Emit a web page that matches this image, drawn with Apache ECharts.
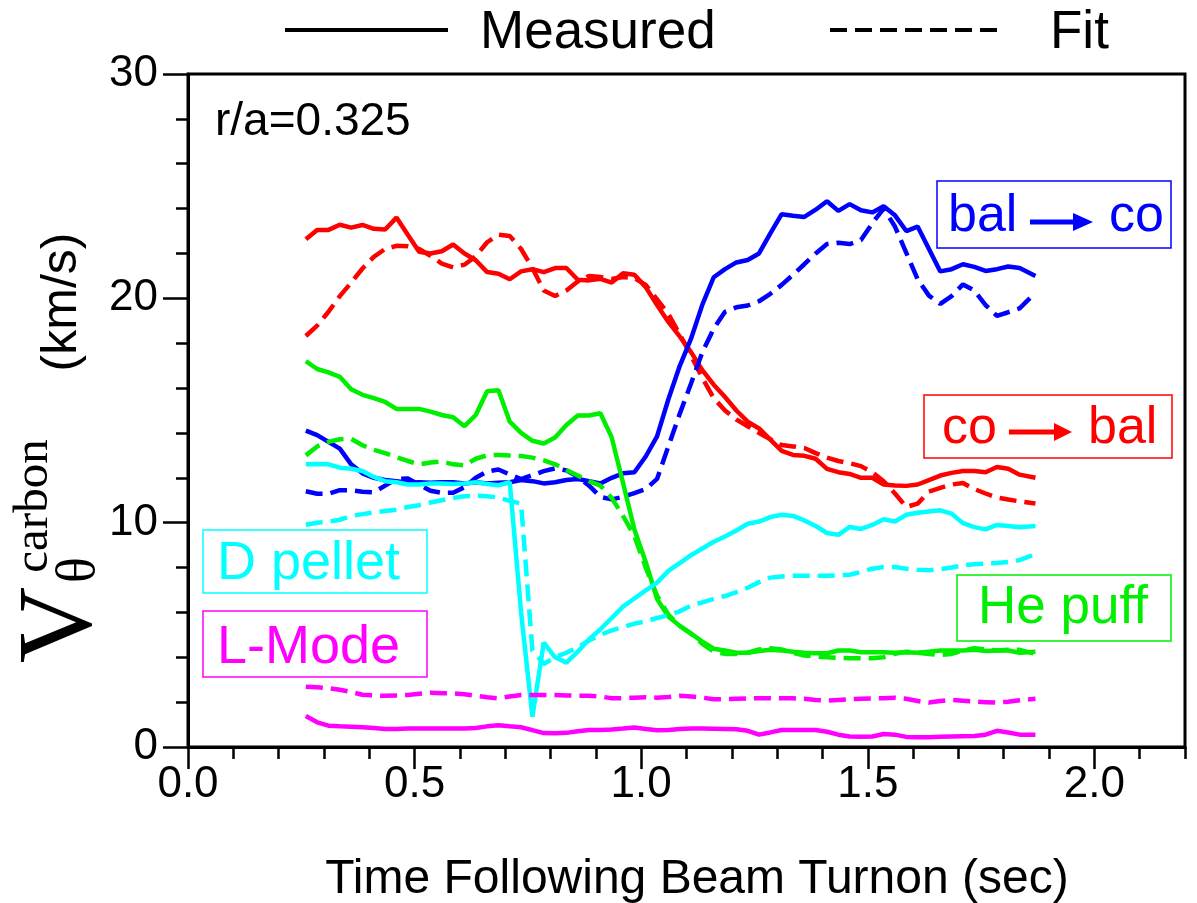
<!DOCTYPE html>
<html>
<head>
<meta charset="utf-8">
<script src="https://cdn.jsdelivr.net/npm/echarts@6/dist/echarts.min.js"></script>
<style>
  html, body { margin: 0; padding: 0; background: #fff; }
  #chart { width: 1197px; height: 903px; }
</style>
</head>
<body>
<div id="chart"></div>
<script>
// time axis (sec) shared by every trace
const time = [0.26, 0.285, 0.31, 0.335, 0.36, 0.385, 0.41, 0.435, 0.46, 0.485,
  0.51, 0.535, 0.56, 0.585, 0.61, 0.635, 0.66, 0.685, 0.71, 0.735,
  0.76, 0.785, 0.81, 0.835, 0.86, 0.885, 0.91, 0.935, 0.96, 0.985,
  1.01, 1.035, 1.06, 1.085, 1.11, 1.135, 1.16, 1.185, 1.21, 1.235,
  1.26, 1.285, 1.31, 1.335, 1.36, 1.385, 1.41, 1.435, 1.46, 1.485,
  1.51, 1.535, 1.56, 1.585, 1.61, 1.635, 1.66, 1.685, 1.71, 1.735,
  1.76, 1.785, 1.81, 1.835, 1.87];

const coBalMeasured = [22.63, 23.05, 23.05, 23.28, 23.15, 23.27, 23.1, 23.07, 23.6, 22.83,
  22.08, 22.0, 22.1, 22.4, 22.0, 21.7, 21.17, 21.1, 20.85, 21.2,
  21.3, 21.17, 21.35, 21.35, 20.83, 20.8, 20.87, 20.7, 21.12, 21.05,
  20.5, 19.7, 18.95, 18.3, 17.6, 16.8, 16.15, 15.6, 15.0, 14.5,
  14.2, 13.7, 13.2, 13.02, 12.98, 12.85, 12.4, 12.25, 12.17, 12.0,
  12.0, 11.7, 11.66, 11.64, 11.7, 11.9, 12.1, 12.22, 12.3, 12.3,
  12.25, 12.48, 12.4, 12.14, 12.0];
const coBalFit = [18.32, 18.78, 19.4, 20.1, 20.7, 21.33, 21.85, 22.2, 22.34, 22.32,
  22.2, 21.9, 21.55, 21.38, 21.5, 21.88, 22.5, 22.84, 22.78, 22.2,
  21.35, 20.35, 20.1, 20.35, 20.75, 21.0, 20.95, 20.86, 20.95, 20.9,
  20.6, 19.95, 19.3, 18.4, 17.45, 16.45, 15.55, 15.0, 14.6, 14.3,
  14.0, 13.72, 13.46, 13.4, 13.33, 13.1, 12.9, 12.75, 12.65, 12.52,
  12.25, 11.85, 11.3, 10.7, 10.85, 11.38, 11.55, 11.7, 11.77, 11.5,
  11.3, 11.12, 11.03, 10.95, 10.85];

const balCoMeasured = [14.1, 13.9, 13.6, 13.3, 12.6, 12.2, 12.0, 11.9, 11.85, 11.78,
  11.8, 11.78, 11.8, 11.8, 11.75, 11.8, 11.75, 11.78, 11.8, 11.9,
  11.85, 11.75, 11.8, 11.9, 11.95, 11.85, 11.75, 12.0, 12.2, 12.25,
  12.95, 13.85, 15.5, 16.98, 18.2, 19.72, 20.94, 21.3, 21.6, 21.71,
  22.0, 22.9, 23.75, 23.68, 23.63, 23.95, 24.33, 23.9, 24.2, 23.93,
  23.83, 24.1, 23.7, 23.0, 23.2, 22.2, 21.2, 21.3, 21.52, 21.4,
  21.22, 21.3, 21.42, 21.35, 21.0];
const balCoFit = [11.4, 11.29, 11.29, 11.45, 11.45, 11.38, 11.35, 11.65, 11.95, 11.97,
  11.7, 11.42, 11.33, 11.33, 11.58, 12.0, 12.28, 12.37, 12.15, 11.94,
  12.12, 12.3, 12.42, 12.33, 12.05, 11.65, 11.15, 11.04, 11.15, 11.32,
  11.5, 11.95, 13.4, 14.85, 16.2, 17.6, 18.65, 19.4, 19.6, 19.68,
  19.87, 20.2, 20.6, 21.05, 21.52, 22.0, 22.42, 22.48, 22.42, 22.6,
  23.35, 24.0, 23.2, 22.03, 20.85, 20.12, 19.75, 20.1, 20.62, 20.35,
  19.7, 19.22, 19.38, 19.55, 20.25];

const hePuffMeasured = [17.2, 16.85, 16.7, 16.5, 15.95, 15.7, 15.55, 15.38, 15.07, 15.07,
  15.07, 14.95, 14.8, 14.7, 14.3, 14.8, 15.86, 15.9, 14.5, 14.0,
  13.65, 13.53, 13.8, 14.35, 14.78, 14.78, 14.88, 13.8, 11.77, 9.7,
  8.25, 6.6, 5.82, 5.4, 5.05, 4.7, 4.38, 4.3, 4.2, 4.2,
  4.28, 4.33, 4.3, 4.25, 4.2, 4.18, 4.18, 4.3, 4.3, 4.22,
  4.22, 4.22, 4.2, 4.22, 4.2, 4.25, 4.3, 4.3, 4.3, 4.33,
  4.28, 4.3, 4.3, 4.2, 4.25];
const hePuffFit = [13.0, 13.4, 13.6, 13.72, 13.74, 13.45, 13.25, 13.1, 12.92, 12.75,
  12.6, 12.68, 12.73, 12.6, 12.55, 12.85, 13.0, 13.02, 12.99, 12.97,
  12.9, 12.78, 12.6, 12.35, 12.1, 11.85, 11.65, 11.1, 10.3, 9.4,
  8.0, 6.75, 5.9, 5.4, 5.05, 4.6, 4.25, 4.15, 4.15, 4.2,
  4.35, 4.4, 4.35, 4.2, 4.08, 4.03, 4.0, 3.97, 3.96, 3.96,
  3.96, 4.0, 4.15, 4.25, 4.2, 4.15, 4.1, 4.15, 4.3, 4.4,
  4.35, 4.3, 4.33, 4.33, 4.15];

const pelletMeasured = [12.6, 12.62, 12.6, 12.45, 12.4, 12.3, 12.04, 11.85, 11.8, 11.7,
  11.7, 11.75, 11.75, 11.72, 11.75, 11.8, 11.72, 11.67, 11.8, 6.0,
  1.35, 4.65, 4.0, 3.76, 4.25, 4.8, 5.25, 5.75, 6.26, 6.62,
  6.98, 7.33, 7.85, 8.2, 8.55, 8.85, 9.15, 9.38, 9.65, 9.95,
  10.05, 10.25, 10.35, 10.3, 10.1, 9.85, 9.54, 9.46, 9.81, 9.72,
  9.9, 10.15, 10.05, 10.35, 10.44, 10.5, 10.55, 10.4, 9.98, 9.8,
  9.7, 9.9, 9.85, 9.8, 9.85];
const pelletFit = [9.91, 10.0, 10.05, 10.13, 10.3, 10.38, 10.46, 10.52, 10.58, 10.7,
  10.78, 10.9, 11.0, 11.1, 11.18, 11.2, 11.18, 11.12, 10.97, 10.85,
  4.3, 3.7, 4.0, 4.2, 4.45, 4.75, 5.0, 5.2, 5.35, 5.5,
  5.6, 5.75, 5.87, 6.05, 6.3, 6.45, 6.6, 6.73, 6.9, 7.1,
  7.35, 7.55, 7.6, 7.63, 7.63, 7.63, 7.63, 7.65, 7.68, 7.8,
  7.95, 8.02, 8.02, 7.95, 7.9, 7.88, 7.93, 8.0, 8.1, 8.15,
  8.18, 8.2, 8.25, 8.33, 8.6];

const lModeMeasured = [1.38, 1.1, 0.95, 0.92, 0.9, 0.88, 0.85, 0.8, 0.8, 0.82,
  0.83, 0.83, 0.83, 0.83, 0.83, 0.85, 0.92, 0.97, 0.92, 0.88,
  0.75, 0.62, 0.61, 0.63, 0.7, 0.76, 0.76, 0.78, 0.82, 0.87,
  0.8, 0.75, 0.76, 0.8, 0.83, 0.82, 0.81, 0.8, 0.79, 0.72,
  0.55, 0.65, 0.76, 0.76, 0.76, 0.76, 0.68, 0.55, 0.47, 0.46,
  0.47, 0.58, 0.55, 0.45, 0.43, 0.44, 0.46, 0.47, 0.48, 0.49,
  0.55, 0.72, 0.65, 0.55, 0.55];
const lModeFit = [2.69, 2.66, 2.62, 2.55, 2.45, 2.33, 2.3, 2.28, 2.3, 2.32,
  2.37, 2.42, 2.4, 2.39, 2.35, 2.28, 2.22, 2.17, 2.25, 2.32,
  2.32, 2.32, 2.32, 2.3, 2.28, 2.28, 2.25, 2.17, 2.18, 2.2,
  2.22, 2.2, 2.23, 2.28, 2.25, 2.2, 2.13, 2.13, 2.15, 2.17,
  2.17, 2.17, 2.17, 2.17, 2.15, 2.1, 2.07, 2.1, 2.13, 2.15,
  2.17, 2.17, 2.2, 2.15, 2.05, 1.98, 2.05, 2.1, 2.06, 2.02,
  2.0, 1.98, 2.02, 2.08, 2.15];

const xMajorTicks = [0, 0.5, 1.0, 1.5, 2.0];

const SANS = '"Liberation Sans", Arial, sans-serif';
const SERIF = '"Liberation Serif", "Times New Roman", serif';
const DASH = [17, 8];

const traces = [
  { name: 'co-bal measured', values: coBalMeasured, color: '#ff0000', dashed: false },
  { name: 'co-bal fit', values: coBalFit, color: '#ff0000', dashed: true },
  { name: 'bal-co measured', values: balCoMeasured, color: '#0000ff', dashed: false },
  { name: 'bal-co fit', values: balCoFit, color: '#0000ff', dashed: true },
  { name: 'He puff measured', values: hePuffMeasured, color: '#00ee00', dashed: false },
  { name: 'He puff fit', values: hePuffFit, color: '#00ee00', dashed: true },
  { name: 'D pellet measured', values: pelletMeasured, color: '#00ffff', dashed: false },
  { name: 'D pellet fit', values: pelletFit, color: '#00ffff', dashed: true },
  { name: 'L-Mode measured', values: lModeMeasured, color: '#ff00ff', dashed: false },
  { name: 'L-Mode fit', values: lModeFit, color: '#ff00ff', dashed: true }
];

const series = traces.map(t => ({
  name: t.name,
  type: 'line',
  xAxisIndex: 0,
  yAxisIndex: 0,
  symbol: 'none',
  data: time.map((x, i) => [x, t.values[i]]),
  lineStyle: { color: t.color, width: 4.5, type: t.dashed ? DASH : 'solid' },
  silent: true
}));

function boxLabel(x, y, w, h, color, parts) {
  const els = [{
    type: 'rect',
    shape: { x: x, y: y, width: w, height: h },
    style: { fill: 'none', stroke: color, lineWidth: 1.5 }
  }];
  parts.forEach(p => {
    if (p.text) {
      els.push({
        type: 'text', x: p.x, y: p.y,
        style: { text: p.text, font: (p.size || 52) + 'px ' + SANS, fill: color, textAlign: 'left', textVerticalAlign: 'middle' }
      });
    } else {
      els.push({
        type: 'line',
        shape: { x1: p.x1, y1: p.ay, x2: p.x2, y2: p.ay },
        style: { stroke: color, lineWidth: 5 }
      });
      els.push({
        type: 'polygon',
        shape: { points: [[p.x2 - 2, p.ay - 9], [p.head, p.ay], [p.x2 - 2, p.ay + 9]] },
        style: { fill: color }
      });
    }
  });
  return els;
}

const graphics = [].concat(
  // legend
  [
    { type: 'line', shape: { x1: 285, y1: 30, x2: 448, y2: 30 }, style: { stroke: '#000', lineWidth: 4 } },
    { type: 'text', x: 480, y: 33, style: { text: 'Measured', font: '53px ' + SANS, fill: '#000', textAlign: 'left', textVerticalAlign: 'middle' } },
    { type: 'line', shape: { x1: 830, y1: 30, x2: 1000, y2: 30 }, style: { stroke: '#000', lineWidth: 4, lineDash: DASH } },
    { type: 'text', x: 1050, y: 33, style: { text: 'Fit', font: '53px ' + SANS, fill: '#000', textAlign: 'left', textVerticalAlign: 'middle' } }
  ],
  // y axis title, rotated
  [
    { type: 'text', x: 62, y: 625, rotation: Math.PI / 2, style: { text: 'V', font: '106px ' + SERIF, fill: '#000', textAlign: 'center', textVerticalAlign: 'middle' } },
    { type: 'text', x: 34, y: 506, rotation: Math.PI / 2, style: { text: 'carbon', font: '49px ' + SERIF, fill: '#000', textAlign: 'center', textVerticalAlign: 'middle' } },
    { type: 'text', x: 80, y: 570, rotation: Math.PI / 2, style: { text: 'θ', font: '54px ' + SERIF, fill: '#000', textAlign: 'center', textVerticalAlign: 'middle' } },
    { type: 'text', x: 62, y: 302, rotation: Math.PI / 2, style: { text: '(km/s)', font: '50px ' + SANS, fill: '#000', textAlign: 'center', textVerticalAlign: 'middle' } }
  ],
  [
    { type: 'text', x: 215, y: 122, style: { text: 'r/a=0.325', font: '46px ' + SANS, fill: '#000', textAlign: 'left', textVerticalAlign: 'middle' } },
    { type: 'text', x: 697, y: 880, style: { text: 'Time Following Beam Turnon (sec)', font: '48px ' + SANS, fill: '#000', textAlign: 'center', textVerticalAlign: 'middle' } }
  ],
  boxLabel(937, 181, 234, 67, '#0000ff', [
    { text: 'bal', x: 948, y: 217 },
    { x1: 1030, x2: 1075, ay: 222, head: 1093 },
    { text: 'co', x: 1109, y: 217 }
  ]),
  boxLabel(924, 395, 248, 63, '#ff0000', [
    { text: 'co', x: 942, y: 429 },
    { x1: 1009, x2: 1056, ay: 432, head: 1072 },
    { text: 'bal', x: 1088, y: 429 }
  ]),
  boxLabel(203, 530, 224, 63, '#00ffff', [{ text: 'D pellet', x: 217, y: 564, size: 54 }]),
  boxLabel(203, 611, 224, 66, '#ff00ff', [{ text: 'L-Mode', x: 217, y: 648, size: 54 }]),
  boxLabel(957, 575, 214, 66, '#00ee00', [{ text: 'He puff', x: 978, y: 608, size: 53 }])
);

const chart = echarts.init(document.getElementById('chart'));
const option = {
  animation: false,
  backgroundColor: '#fff',
  grid: {
    left: 188, top: 74, width: 997, height: 673,
    show: true, borderColor: '#000', borderWidth: 3
  },
  xAxis: [
    {
      type: 'value', position: 'bottom', min: 0, max: 2.2, interval: 0.1,
      axisLine: { show: true, lineStyle: { color: '#000', width: 3 } },
      axisTick: { show: true, length: 12, lineStyle: { color: '#000', width: 2.5 } },
      axisLabel: {
        customValues: xMajorTicks,
        formatter: v => v.toFixed(1),
        color: '#000', fontSize: 44, fontFamily: SANS, margin: 16
      },
      splitLine: { show: false }
    },
    {
      type: 'value', position: 'bottom', min: 0, max: 2.2,
      axisLine: { show: false },
      axisTick: { show: true, customValues: xMajorTicks, length: 22, lineStyle: { color: '#000', width: 2.5 } },
      axisLabel: { show: false },
      splitLine: { show: false }
    }
  ],
  yAxis: {
    type: 'value', min: 0, max: 30, interval: 10,
    axisLine: { show: true, lineStyle: { color: '#000', width: 3 } },
    axisTick: { show: true, length: 25, lineStyle: { color: '#000', width: 2.5 } },
    minorTick: { show: true, splitNumber: 5, length: 12, lineStyle: { color: '#000', width: 2.5 } },
    axisLabel: { color: '#000', fontSize: 44, fontFamily: SANS, margin: 30 },
    splitLine: { show: false }
  },
  graphic: graphics,
  series: series
};
chart.setOption(option);
</script>
</body>
</html>
